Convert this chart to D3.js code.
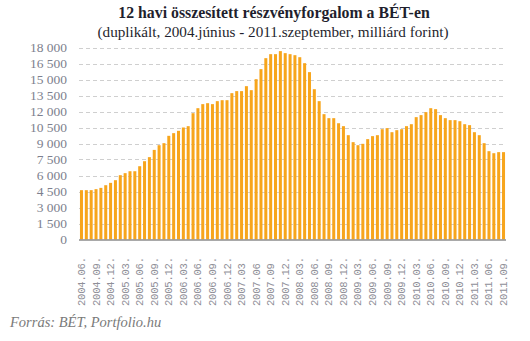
<!DOCTYPE html>
<html>
<head>
<meta charset="utf-8">
<script src="https://cdn.jsdelivr.net/npm/d3@7"></script>
<style>
  body { margin: 0; background: #fff; }
  svg { display: block; }
</style>
</head>
<body>
<svg id="chart" width="530" height="341"></svg>
<script>
// 12-month rolling equity turnover on the BÉT, monthly, 2004.06 – 2011.09 (bn HUF)
const months = [];
for (let yr = 2004; yr <= 2011; yr++) {
  for (let m = 1; m <= 12; m++) {
    if ((yr === 2004 && m < 6) || (yr === 2011 && m > 9)) continue;
    months.push(yr + "." + String(m).padStart(2, "0"));
  }
}

const turnover = [
  4625, 4625, 4625, 4720, 4840, 5090, 5310, 5560, 6030, 6220, 6400, 6400,
  6870, 7340, 7720, 8400, 8840, 9030, 9720, 9970, 10190, 10500, 10625, 11840,
  12310, 12690, 12780, 12690, 12970, 13060, 13060, 13720, 13910, 13910, 14375, 14000,
  15030, 15970, 17000, 17375, 17375, 17660, 17470, 17375, 17280, 17090, 16530, 15690,
  14090, 12970, 11750, 11375, 11375, 10900, 10625, 9780, 9125, 8840, 8970, 9410,
  9690, 9780, 10340, 10440, 10060, 10250, 10340, 10625, 10810, 11470, 11660, 11940,
  12310, 12220, 11660, 11375, 11190, 11190, 11090, 10810, 10720, 10060, 9780, 9030,
  8280, 8090, 8190, 8190
];

// axis labels as printed (a few lack the trailing dot)
const noDot = new Set(["2007.03", "2007.06", "2007.09"]);
const tickLabel = m => noDot.has(m) ? m : m + ".";

const yTicks = d3.range(0, 18001, 1500);
const title = "12 havi összesített részvényforgalom a BÉT-en";
const subtitle = "(duplikált, 2004.június - 2011.szeptember, milliárd forint)";
const source = "Forrás: BÉT, Portfolio.hu";

const svg = d3.select("#chart");
const plotL = 79, plotR = 506, plotT = 47.5, plotB = 239.5;

const x = d3.scaleBand().domain(months).range([plotL, plotR]).paddingInner(0.38).paddingOuter(0.2);
const y = d3.scaleLinear().domain([0, 18000]).range([plotB, plotT]);

const fmt = v => d3.format(",")(v).replace(/,/g, " ");

// gridlines
svg.append("g")
  .selectAll("line")
  .data(yTicks.filter(d => d > 0))
  .join("line")
  .attr("x1", plotL).attr("x2", plotR)
  .attr("y1", d => Math.round(y(d)) + 0.5).attr("y2", d => Math.round(y(d)) + 0.5)
  .attr("stroke", "#cfcfcf")
  .attr("stroke-dasharray", "4,3");

// y labels
svg.append("g")
  .selectAll("text")
  .data(yTicks)
  .join("text")
  .attr("x", 67).attr("y", d => y(d) + 4.5)
  .attr("text-anchor", "end")
  .attr("font-family", "Liberation Serif, serif")
  .attr("font-size", 13.5)
  .attr("fill", "#7d7f8e")
  .text(fmt);

// bars
svg.append("g")
  .selectAll("rect")
  .data(turnover)
  .join("rect")
  .attr("x", (d, i) => x(months[i]))
  .attr("width", x.bandwidth())
  .attr("y", d => y(d))
  .attr("height", d => plotB - y(d))
  .attr("fill", "#f7a51c");

// base axis line
svg.append("line")
  .attr("x1", plotL).attr("x2", plotR)
  .attr("y1", plotB + 0.5).attr("y2", plotB + 0.5)
  .attr("stroke", "#8c8c8c")
  .attr("stroke-width", 1.5);

// x labels, every quarter
svg.append("g")
  .selectAll("text")
  .data(months.filter((m, i) => i % 3 === 0))
  .join("text")
  .attr("transform", m => `translate(${x(m) + x.bandwidth() / 2 + 3.5},306) rotate(-90)`)
  .attr("text-anchor", "start")
  .attr("font-family", "Liberation Mono, monospace")
  .attr("font-size", 10.5)
  .attr("letter-spacing", -0.2)
  .attr("fill", "#8f8f98")
  .text(tickLabel);

// titles
svg.append("text")
  .attr("x", 274).attr("y", 18)
  .attr("text-anchor", "middle")
  .attr("font-family", "Liberation Serif, serif")
  .attr("font-weight", "bold")
  .attr("font-size", 15.8)
  .attr("fill", "#1f1f2e")
  .text(title);

svg.append("text")
  .attr("x", 273).attr("y", 37)
  .attr("text-anchor", "middle")
  .attr("font-family", "Liberation Serif, serif")
  .attr("font-size", 15.2)
  .attr("fill", "#1f1f2e")
  .text(subtitle);

svg.append("text")
  .attr("x", 10).attr("y", 327)
  .attr("font-family", "Liberation Serif, serif")
  .attr("font-style", "italic")
  .attr("font-size", 14.5)
  .attr("fill", "#7a7a7a")
  .text(source);
</script>
</body>
</html>
